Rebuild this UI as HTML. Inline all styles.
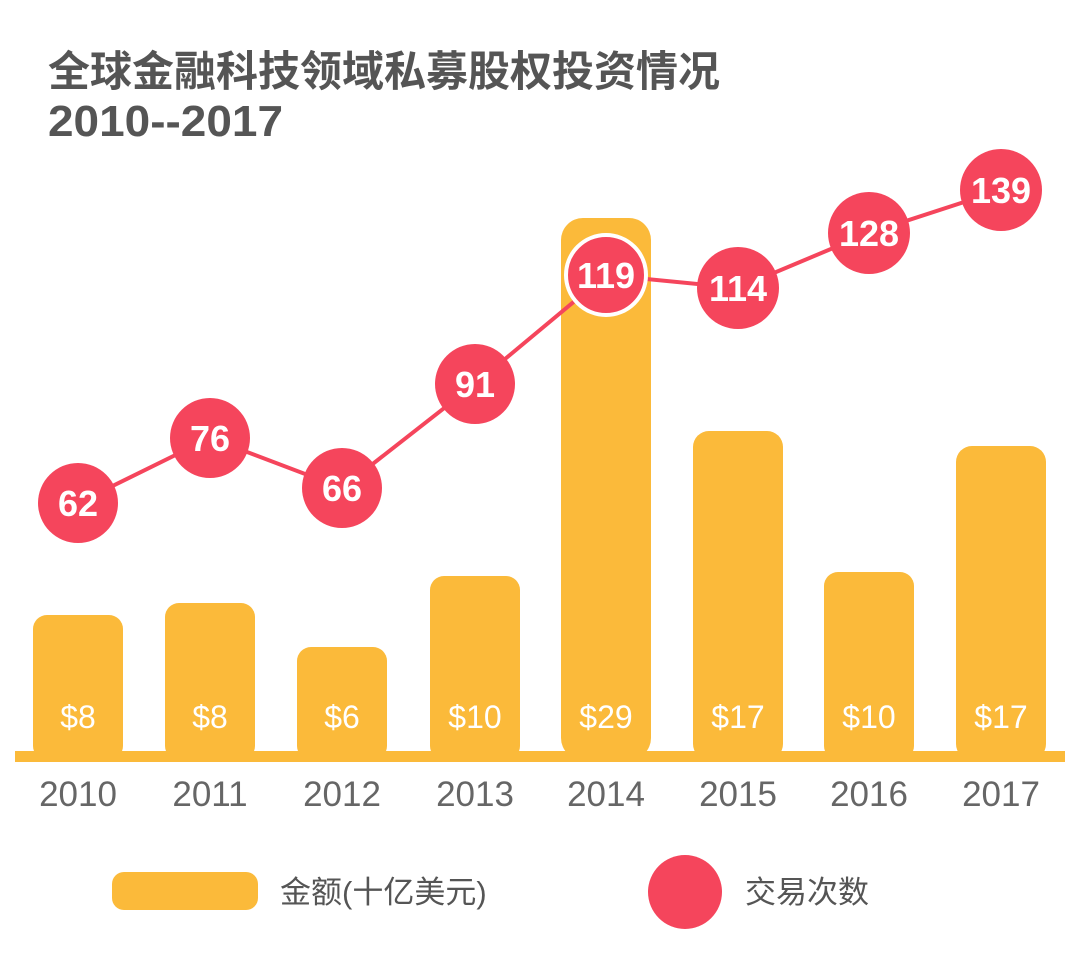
<!DOCTYPE html>
<html><head><meta charset="utf-8"><style>
body{margin:0;background:#fff;}
svg{display:block}
</style></head><body>
<svg width="1080" height="960" viewBox="0 0 1080 960" xmlns="http://www.w3.org/2000/svg" font-family="Liberation Sans, Noto Sans CJK SC, sans-serif">
<rect width="1080" height="960" fill="#fff"/>
<text x="48" y="86" font-size="42" font-weight="bold" fill="#555" textLength="672" lengthAdjust="spacingAndGlyphs">全球金融科技领域私募股权投资情况</text>
<text x="48" y="136" font-size="44" font-weight="bold" fill="#555" textLength="235" lengthAdjust="spacingAndGlyphs">2010--2017</text>
<g fill="#FBBA3A">
<rect x="33" y="615" width="90" height="145" rx="14"/>
<rect x="165" y="603" width="90" height="157" rx="14"/>
<rect x="297" y="647" width="90" height="113" rx="14"/>
<rect x="430" y="576" width="90" height="184" rx="14"/>
<rect x="561" y="218" width="90" height="542" rx="22"/>
<rect x="693" y="431" width="90" height="329" rx="16"/>
<rect x="824" y="572" width="90" height="188" rx="14"/>
<rect x="956" y="446" width="90" height="314" rx="16"/>
<rect x="15" y="751" width="1050" height="11"/>
</g>
<g fill="#fff" font-size="32" text-anchor="middle">
<text x="78" y="728">$8</text><text x="210" y="728">$8</text><text x="342" y="728">$6</text><text x="475" y="728">$10</text>
<text x="606" y="728">$29</text><text x="738" y="728">$17</text><text x="869" y="728">$10</text><text x="1001" y="728">$17</text>
</g>
<g fill="#666" font-size="35" text-anchor="middle">
<text x="78" y="806">2010</text><text x="210" y="806">2011</text><text x="342" y="806">2012</text><text x="475" y="806">2013</text>
<text x="606" y="806">2014</text><text x="738" y="806">2015</text><text x="869" y="806">2016</text><text x="1001" y="806">2017</text>
</g>
<polyline points="78,503 210,438 342,488 475,384 606,275 738,288 869,233 1001,190" fill="none" stroke="#F5455C" stroke-width="4"/>
<g fill="#F5455C">
<circle cx="78" cy="503" r="40"/><circle cx="210" cy="438" r="40"/><circle cx="342" cy="488" r="40"/><circle cx="475" cy="384" r="40"/>
<circle cx="606" cy="275" r="40" stroke="#fff" stroke-width="4"/><circle cx="738" cy="288" r="41"/><circle cx="869" cy="233" r="41"/><circle cx="1001" cy="190" r="41"/>
</g>
<g fill="#fff" font-size="36" font-weight="bold" text-anchor="middle">
<text x="78" y="516">62</text><text x="210" y="451">76</text><text x="342" y="501">66</text><text x="475" y="397">91</text>
<text x="606" y="288">119</text><text x="738" y="301">114</text><text x="869" y="246">128</text><text x="1001" y="203">139</text>
</g>
<rect x="112" y="872" width="146" height="38" rx="12" fill="#FBBA3A"/>
<text x="280" y="903" font-size="31" fill="#555">金额(十亿美元)</text>
<circle cx="685" cy="892" r="37" fill="#F5455C"/>
<text x="745" y="903" font-size="31" fill="#555">交易次数</text>
</svg>
</body></html>
